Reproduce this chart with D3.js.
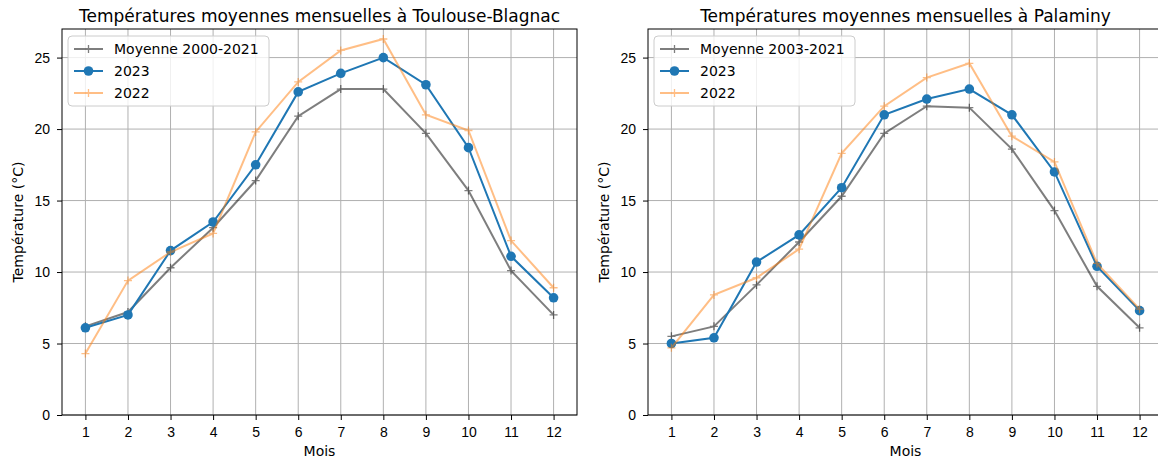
<!DOCTYPE html>
<html lang="fr">
<head>
<meta charset="utf-8">
<title>Températures moyennes mensuelles</title>
<script src="https://cdn.jsdelivr.net/npm/d3@7"></script>
<style>
  body { margin: 0; background: #fff; }
  svg { display: block; font-family: "DejaVu Sans", sans-serif; }
  .grid line { stroke: #b0b0b0; stroke-width: 1; }
  .axis path, .axis line { stroke: #000; }
  .axis text { font-size: 14px; fill: #000; }
</style>
</head>
<body>
<svg class="chart"></svg>
<script>
// months on the x axis
var mois = [1, 2, 3, 4, 5, 6, 7, 8, 9, 10, 11, 12];
var yTicks = [0, 5, 10, 15, 20, 25];

// Toulouse-Blagnac
var toulouseMoyenne = [6.2, 7.2, 10.3, 13.1, 16.4, 20.9, 22.8, 22.8, 19.7, 15.7, 10.1, 7.0];
var toulouse2023 = [6.1, 7.0, 11.5, 13.5, 17.5, 22.6, 23.9, 25.0, 23.1, 18.7, 11.1, 8.2];
var toulouse2022 = [4.3, 9.4, 11.4, 12.7, 19.8, 23.3, 25.5, 26.3, 21.0, 19.9, 12.2, 8.9];

// Palaminy
var palaminyMoyenne = [5.5, 6.2, 9.1, 12.1, 15.3, 19.7, 21.6, 21.5, 18.6, 14.3, 9.0, 6.1];
var palaminy2023 = [5.0, 5.4, 10.7, 12.6, 15.9, 21.0, 22.1, 22.8, 21.0, 17.0, 10.4, 7.3];
var palaminy2022 = [4.7, 8.4, 9.6, 11.6, 18.3, 21.6, 23.6, 24.6, 19.5, 17.7, 10.6, 7.4];

var W = 1158, H = 461;
var svg = d3.select(".chart").attr("width", W).attr("height", H);
svg.append("rect").attr("width", W).attr("height", H).attr("fill", "#fff");

function plusPath(s) {
  return "M" + (-s) + ",0H" + s + "M0," + (-s) + "V" + s;
}

function drawPanel(left, right, title, labels, series) {
  var top = 29, bottom = 415;
  var x = d3.scaleLinear().domain([0.45, 12.55]).range([left, right]);
  var y = d3.scaleLinear().domain([0, 27]).range([bottom, top]);

  var g = svg.append("g");
  var clipId = "clip" + left;
  svg.append("clipPath").attr("id", clipId)
    .append("rect").attr("x", left).attr("y", top)
    .attr("width", right - left).attr("height", bottom - top);

  // grid
  var grid = g.append("g").attr("class", "grid");
  grid.selectAll(".gx").data(mois).enter().append("line")
    .attr("x1", function(d) { return x(d); }).attr("x2", function(d) { return x(d); })
    .attr("y1", top).attr("y2", bottom);
  grid.selectAll(".gy").data(yTicks).enter().append("line")
    .attr("x1", left).attr("x2", right)
    .attr("y1", function(d) { return y(d); }).attr("y2", function(d) { return y(d); });

  var line = d3.line()
    .x(function(d, i) { return x(mois[i]); })
    .y(function(d) { return y(d); });

  var plot = g.append("g").attr("clip-path", "url(#" + clipId + ")");

  series.forEach(function(s) {
    var sg = plot.append("g").attr("opacity", s.alpha);
    sg.append("path").datum(s.values)
      .attr("fill", "none").attr("stroke", s.color).attr("stroke-width", 2)
      .attr("d", line);
    if (s.marker === "o") {
      sg.selectAll("circle").data(s.values).enter().append("circle")
        .attr("cx", function(d, i) { return x(mois[i]); })
        .attr("cy", function(d) { return y(d); })
        .attr("r", 4.8).attr("fill", s.color);
    } else {
      sg.selectAll(".plus").data(s.values).enter().append("path")
        .attr("transform", function(d, i) { return "translate(" + x(mois[i]) + "," + y(d) + ")"; })
        .attr("d", plusPath(4)).attr("stroke", s.color).attr("stroke-width", 1.3);
    }
  });

  // axes
  var xAxis = d3.axisBottom(x).tickValues(mois).tickSize(5).tickPadding(7).tickFormat(d3.format("d"));
  var yAxis = d3.axisLeft(y).tickValues(yTicks).tickSize(5).tickPadding(7);
  g.append("g").attr("class", "axis")
    .attr("transform", "translate(0," + bottom + ")").call(xAxis)
    .select(".domain").remove();
  g.append("g").attr("class", "axis")
    .attr("transform", "translate(" + left + ",0)").call(yAxis)
    .select(".domain").remove();

  // spines
  g.append("rect").attr("x", left).attr("y", top)
    .attr("width", right - left).attr("height", bottom - top)
    .attr("fill", "none").attr("stroke", "#000").attr("stroke-width", 1);

  // title and labels
  g.append("text").attr("x", (left + right) / 2).attr("y", 22)
    .attr("text-anchor", "middle").attr("font-size", 17).text(title);
  g.append("text").attr("x", (left + right) / 2).attr("y", 456)
    .attr("text-anchor", "middle").attr("font-size", 14).text("Mois");
  g.append("text")
    .attr("transform", "translate(" + (left - 39) + "," + ((top + bottom) / 2) + ") rotate(-90)")
    .attr("text-anchor", "middle").attr("font-size", 14).text("Température (°C)");

  // legend
  var lg = g.append("g").attr("transform", "translate(" + (left + 6) + "," + (top + 7) + ")");
  lg.append("rect").attr("width", 201).attr("height", 70).attr("rx", 4)
    .attr("fill", "#fff").attr("fill-opacity", 0.8)
    .attr("stroke", "#ccc").attr("stroke-width", 1);
  series.forEach(function(s, i) {
    var ry = 13 + i * 22;
    var e = lg.append("g").attr("transform", "translate(0," + ry + ")");
    var m = e.append("g").attr("opacity", s.alpha);
    m.append("line").attr("x1", 6).attr("x2", 35).attr("stroke", s.color).attr("stroke-width", 2);
    if (s.marker === "o") {
      m.append("circle").attr("cx", 20.5).attr("r", 4.8).attr("fill", s.color);
    } else {
      m.append("path").attr("transform", "translate(20.5,0)").attr("d", plusPath(4))
        .attr("stroke", s.color).attr("stroke-width", 1.3);
    }
    e.append("text").attr("x", 46).attr("y", 5).attr("font-size", 14).text(labels[i]);
  });
}

drawPanel(62, 577, "Températures moyennes mensuelles à Toulouse-Blagnac",
  ["Moyenne 2000-2021", "2023", "2022"],
  [
    { values: toulouseMoyenne, color: "#000", alpha: 0.5, marker: "+" },
    { values: toulouse2023, color: "#1f77b4", alpha: 1, marker: "o" },
    { values: toulouse2022, color: "#ff7f0e", alpha: 0.5, marker: "+" }
  ]);

drawPanel(648, 1163, "Températures moyennes mensuelles à Palaminy",
  ["Moyenne 2003-2021", "2023", "2022"],
  [
    { values: palaminyMoyenne, color: "#000", alpha: 0.5, marker: "+" },
    { values: palaminy2023, color: "#1f77b4", alpha: 1, marker: "o" },
    { values: palaminy2022, color: "#ff7f0e", alpha: 0.5, marker: "+" }
  ]);
</script>
</body>
</html>
